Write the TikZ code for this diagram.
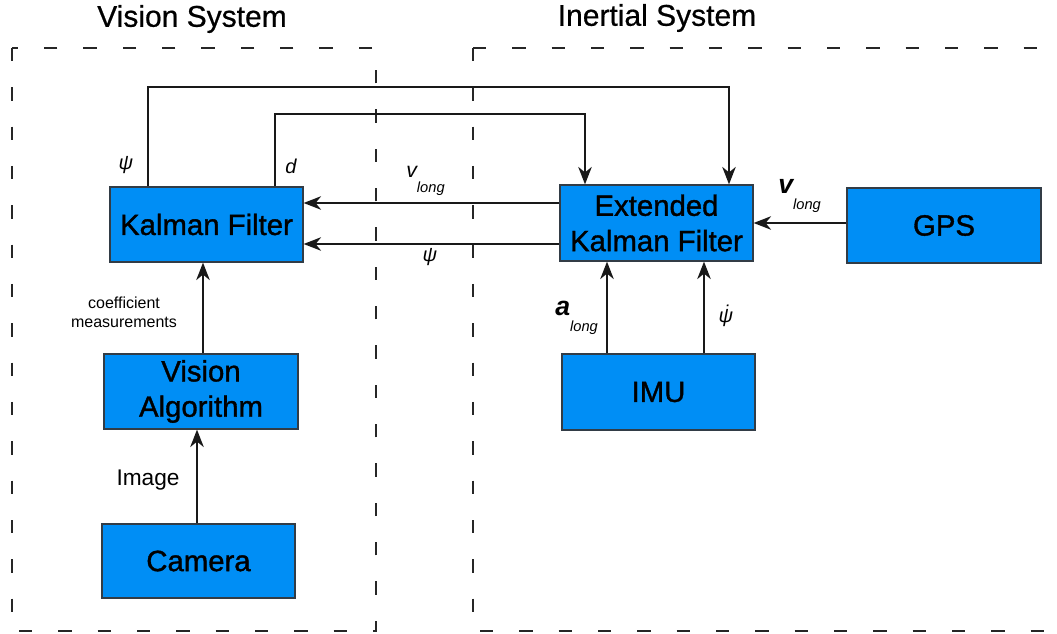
\documentclass[tikz,border=0pt]{standalone}
\usepackage{fontspec}
\setmainfont{Liberation Sans}
\usetikzlibrary{arrows.meta,calc}
\definecolor{boxblue}{RGB}{0,142,245}
\definecolor{boxedge}{RGB}{50,60,70}
\begin{document}
\begin{tikzpicture}[x=0.75pt,y=-0.75pt,
  blk/.style={draw=boxedge,line width=0.9pt,fill=boxblue,inner sep=0pt,align=center,
    font=\fontsize{22}{26.5}\selectfont\addfontfeature{FakeBold=1.2}},
  sysbox/.style={draw=black!85,line width=1.7pt,dash pattern=on 10pt off 19.5pt},
  conn/.style={draw=black!90,line width=2.1pt},
  arr/.style={conn,-{Stealth[length=13pt,width=10pt,inset=4pt]}},
  lbl/.style={inner sep=0pt,font=\fontsize{17}{20}\selectfont},
  sym/.style={inner sep=0pt,font=\fontsize{15}{18}\selectfont\itshape},
  title/.style={inner sep=0pt,font=\fontsize{22.5}{26}\selectfont\addfontfeature{FakeBold=0.6}}]
\useasboundingbox (0,0) rectangle (1057,634);
\fill[white] (0,0) rectangle (1057,634);
% system frames
\draw[sysbox] (12,48) rectangle (376,631);
\draw[sysbox] (473,48) -- (1070,48);
\draw[sysbox] (473,48) -- (473,631) -- (1070,631);
\node[title] (tv) at (192,19) {Vision System};
\node[title] (ti) at (657,18) {Inertial System};
% blocks
\node[blk,minimum width=193*0.75pt,minimum height=75*0.75pt] (kf) at (206.5,224.5) {Kalman Filter};
\node[blk,minimum width=194*0.75pt,minimum height=75*0.75pt] (va) at (201,391.5) {Vision\\Algorithm};
\node[blk,minimum width=193*0.75pt,minimum height=74*0.75pt] (cam) at (198.5,561) {Camera};
\node[blk,minimum width=193*0.75pt,minimum height=76*0.75pt] (ekf) at (656.5,223) {Extended\\Kalman Filter};
\node[blk,minimum width=194*0.75pt,minimum height=75*0.75pt] (gps) at (944,225.5) {GPS};
\node[blk,minimum width=193*0.75pt,minimum height=76*0.75pt] (imu) at (658.5,392) {IMU};
% helper coordinates
\coordinate (xva) at (203,0);
\coordinate (xcam) at (197,0);
\coordinate (xpsi) at (148,87);
\coordinate (xpsiR) at (729,87);
\coordinate (xd) at (275,114);
\coordinate (xdR) at (585,114);
\coordinate (yv) at (0,203);
\coordinate (yp) at (0,244);
\coordinate (yg) at (0,223);
\coordinate (xa) at (607,0);
\coordinate (xpd) at (704,0);
% connectors
\draw[arr] (va.north -| xva) -- (kf.south -| xva);
\draw[arr] (cam.north -| xcam) -- (va.south -| xcam);
\draw[arr] (kf.north -| xpsi) -- (xpsi) -- (xpsiR) -- (ekf.north -| xpsiR);
\draw[arr] (kf.north -| xd) -- (xd) -- (xdR) -- (ekf.north -| xdR);
\draw[arr] (ekf.west |- yv) -- (kf.east |- yv);
\draw[arr] (ekf.west |- yp) -- (kf.east |- yp);
\draw[arr] (gps.west |- yg) -- (ekf.east |- yg);
\draw[arr] (imu.north -| xa) -- (ekf.south -| xa);
\draw[arr] (imu.north -| xpd) -- (ekf.south -| xpd);
% labels
\node[sym] (lpsi1) at (126,165) {ψ};
\node[sym] (ld) at (291,166) {d};
\node[inner sep=0pt,anchor=west] (lv1) at (406,181) {\fontsize{16}{18}\selectfont\itshape v\raisebox{-1.3ex}{\fontsize{11}{12}\selectfont long}};
\node[sym] (lpsi2) at (430,257) {ψ};
\node[inner sep=0pt,anchor=west] (lv2) at (778,196) {\fontsize{20}{22}\selectfont\bfseries\itshape v\raisebox{-1.1ex}{\fontsize{11}{12}\selectfont\mdseries long}};
\node[inner sep=0pt,anchor=west] (la) at (555,318) {\fontsize{20}{22}\selectfont\bfseries\itshape a\raisebox{-1.1ex}{\fontsize{11}{12}\selectfont\mdseries long}};
\node[sym] (lpd) at (726,316) {\accent"02D9 ψ};
\node[inner sep=0pt,align=center,font=\fontsize{12}{14.5}\selectfont] (lcm) at (124,312) {coefficient\\measurements};
\node[lbl] (limg) at (148,480) {Image};
\end{tikzpicture}
\end{document}
